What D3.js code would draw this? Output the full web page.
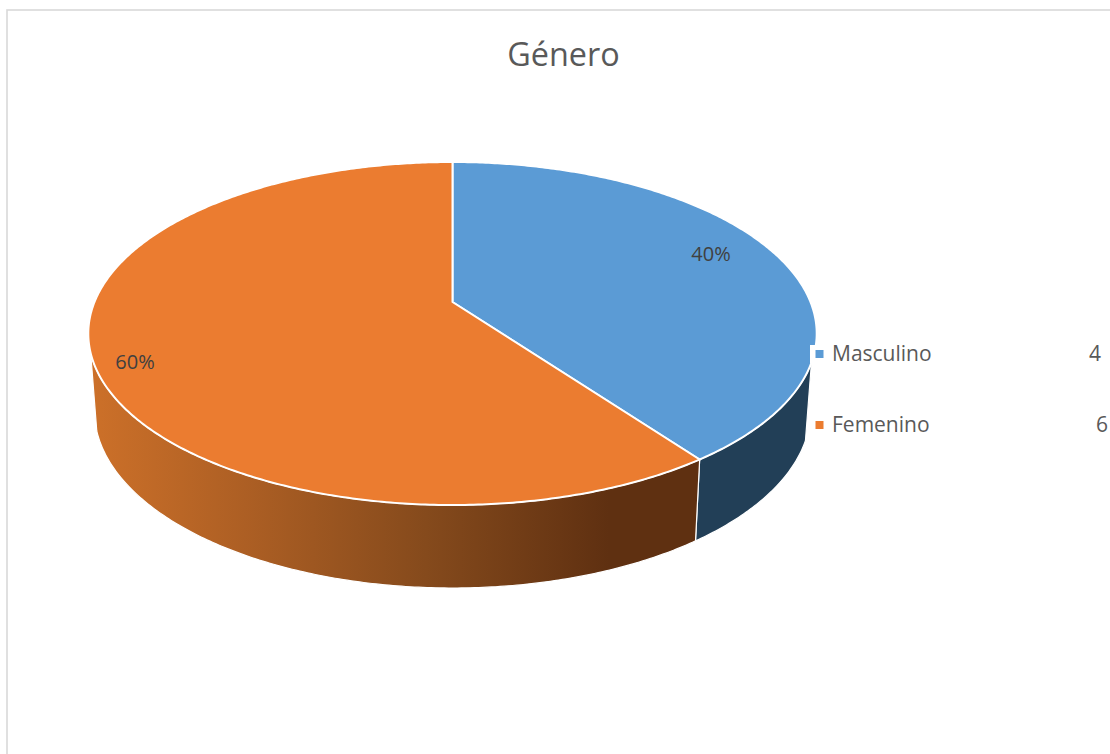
<!DOCTYPE html>
<html>
<head>
<meta charset="utf-8">
<style>
    html, body {
        margin: 0;
        background: #fff;
        overflow: hidden;
    }

    text {
        font-family: 'Open Sans', sans-serif;
    }
</style>
</head>
<body>
<svg width="1110" height="754"></svg>
<script src="https://d3js.org/d3.v7.min.js"></script>
<script>
    // chart data
    var categories = ["Masculino", "Femenino"];
    var values = [4, 6];
    var chartTitle = "Género";

    var topColors = ["#5B9BD5", "#EB7C30"];

    var svg = d3.select("svg");

    // chart frame, runs off the right and bottom of the picture
    svg.append("rect")
        .attr("x", 7)
        .attr("y", 10)
        .attr("width", 1140)
        .attr("height", 790)
        .attr("fill", "#fff")
        .attr("stroke", "#D9D9D9")
        .attr("stroke-width", 1.6);

    svg.append("text")
        .attr("x", 563.5)
        .attr("y", 66)
        .attr("text-anchor", "middle")
        .attr("font-size", 32.4)
        .attr("fill", "#595959")
        .text(chartTitle);

    var pie = d3.pie().sort(null);
    var slices = pie(values);

    // the pie is tilted in perspective, so the circle goes through a projective map
    var cx = 452.5;
    var persp = 0.1837;
    function project(face, angle) {
        var u = Math.sin(angle),
            v = Math.cos(angle),
            w = 1 + persp * v;
        return [cx + face.k * u / w, (face.b + face.a * v) / w];
    }

    var topFace = {k: 358, a: -110.25, b: 302};
    var bottomFace = {k: 352, a: -102, b: 378};

    // the part of the rim that can be seen from the front
    var rimStart = 110 * Math.PI / 180;
    var rimEnd = 253 * Math.PI / 180;

    var line = d3.line();

    function rim(face, a0, a1) {
        var n = Math.ceil(Math.abs(a1 - a0) / 0.01);
        return d3.range(n + 1).map(function (i) {
            return project(face, a0 + (a1 - a0) * i / n);
        });
    }

    // shading of the side wall
    var defs = svg.append("defs");
    var grad = defs.append("linearGradient")
        .attr("id", "wallOrange")
        .attr("gradientUnits", "userSpaceOnUse")
        .attr("x1", 92).attr("y1", 0)
        .attr("x2", 700).attr("y2", 0);
    grad.append("stop").attr("offset", "0%").attr("stop-color", "#CC7029");
    grad.append("stop").attr("offset", "25%").attr("stop-color", "#AD5F24");
    grad.append("stop").attr("offset", "55%").attr("stop-color", "#854A1C");
    grad.append("stop").attr("offset", "85%").attr("stop-color", "#5F3011");
    grad.append("stop").attr("offset", "100%").attr("stop-color", "#5F3011");

    var wallFill = ["#223F57", "url(#wallOrange)"];

    // side walls
    svg.append("g")
        .selectAll("path")
        .data(slices)
        .enter().append("path")
        .attr("d", function (d) {
            var a0 = Math.max(d.startAngle, rimStart),
                a1 = Math.min(d.endAngle, rimEnd);
            return line(rim(topFace, a0, a1).concat(rim(bottomFace, a1, a0))) + "Z";
        })
        .attr("fill", function (d, i) {
            return wallFill[i];
        })
        .attr("stroke", "#fff")
        .attr("stroke-width", 1.2)
        .attr("stroke-linejoin", "round");

    // top face
    svg.append("g")
        .selectAll("path")
        .data(slices)
        .enter().append("path")
        .attr("d", function (d) {
            return line([[cx, topFace.b]].concat(rim(topFace, d.startAngle, d.endAngle))) + "Z";
        })
        .attr("fill", function (d, i) {
            return topColors[i];
        })
        .attr("stroke", "#fff")
        .attr("stroke-width", 2)
        .attr("stroke-linejoin", "round");

    // percent labels
    var total = d3.sum(values);
    var pct = d3.format(".0%");
    var labelPos = [[711, 261], [135, 369]];

    svg.append("g")
        .selectAll("text")
        .data(values)
        .enter().append("text")
        .attr("x", function (d, i) { return labelPos[i][0]; })
        .attr("y", function (d, i) { return labelPos[i][1]; })
        .attr("text-anchor", "middle")
        .attr("font-size", 20)
        .attr("fill", "#404040")
        .text(function (d) { return pct(d / total); });

    // legend, white box behind it cuts into the pie a little
    svg.append("rect")
        .attr("x", 810)
        .attr("y", 345)
        .attr("width", 8)
        .attr("height", 18)
        .attr("fill", "#fff");

    var legendY = d3.scalePoint()
        .domain(categories)
        .range([354, 425]);
    var valueX = [1101, 1108];

    var legend = svg.append("g")
        .selectAll("g")
        .data(categories)
        .enter().append("g")
        .attr("transform", function (d) {
            return "translate(0," + legendY(d) + ")";
        });

    legend.append("rect")
        .attr("x", 815.5)
        .attr("y", -4)
        .attr("width", 8)
        .attr("height", 8)
        .attr("fill", function (d, i) { return topColors[i]; });

    legend.append("text")
        .attr("x", 832)
        .attr("y", 7)
        .attr("font-size", 21)
        .attr("fill", "#595959")
        .text(function (d) { return d; });

    legend.append("text")
        .attr("x", function (d, i) { return valueX[i]; })
        .attr("y", 7)
        .attr("text-anchor", "end")
        .attr("font-size", 21)
        .attr("fill", "#595959")
        .text(function (d, i) { return values[i]; });
</script>
</body>
</html>
